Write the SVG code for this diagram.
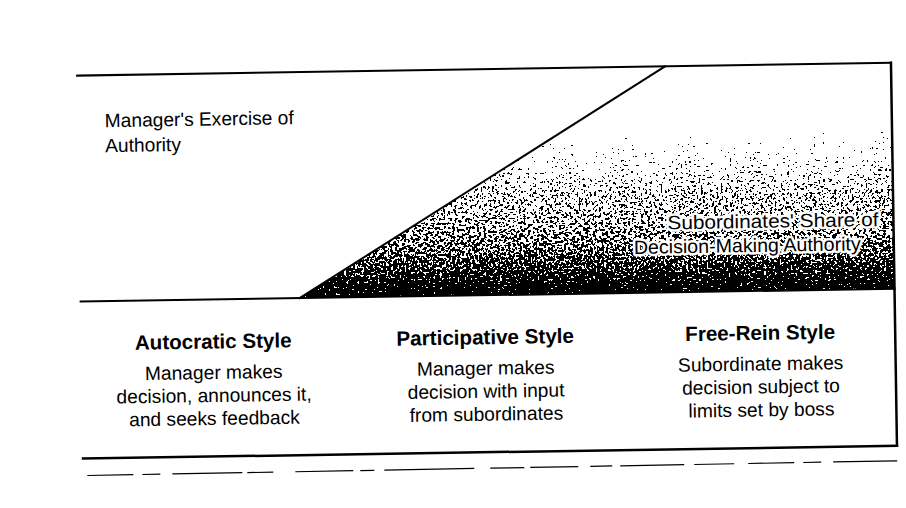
<svg xmlns="http://www.w3.org/2000/svg" width="906" height="508" viewBox="0 0 906 508">
  <defs>
    <style>
      .rule { stroke: #000; stroke-width: 2; fill: none; stroke-linecap: square; }
      .label { font-family: "Liberation Sans", Arial, sans-serif; font-size: 19.2px; fill: #000; }
      .title { font-family: "Liberation Sans", Arial, sans-serif; font-size: 20.6px; font-weight: bold; fill: #000; text-anchor: middle; }
      .body { font-family: "Liberation Sans", Arial, sans-serif; font-size: 19.2px; fill: #000; text-anchor: middle; }
      .halo { stroke: #fff; stroke-width: 5; stroke-linejoin: round; paint-order: stroke; }
    </style>
    <!-- vertical density ramp for the subordinates' share area -->
    <linearGradient id="ramp" gradientUnits="userSpaceOnUse" x1="0" y1="69" x2="0" y2="295">
      <stop offset="0" stop-color="#000" stop-opacity="0"/>
      <stop offset="0.3" stop-color="#000" stop-opacity="0.02"/>
      <stop offset="0.45" stop-color="#000" stop-opacity="0.2"/>
      <stop offset="0.62" stop-color="#000" stop-opacity="0.36"/>
      <stop offset="0.78" stop-color="#000" stop-opacity="0.52"/>
      <stop offset="0.89" stop-color="#000" stop-opacity="0.74"/>
      <stop offset="1" stop-color="#000" stop-opacity="0.92"/>
    </linearGradient>
    <!-- turns the smooth ramp into a stippled, halftone-like texture -->
    <filter id="stipple" filterUnits="objectBoundingBox" x="0" y="0" width="1" height="1" color-interpolation-filters="sRGB">
      <feTurbulence type="fractalNoise" baseFrequency="0.45" numOctaves="4" seed="11" result="noise"/>
      <feColorMatrix in="noise" type="matrix" values="0 0 0 0 0  0 0 0 0 0  0 0 0 0 0  2.5 0 0 0 -0.75" result="n"/>
      <feComposite in="SourceGraphic" in2="n" operator="arithmetic" k1="0" k2="1" k3="1" k4="-0.52" result="sum"/>
      <feComponentTransfer in="sum">
        <feFuncA type="discrete" tableValues="0 1"/>
      </feComponentTransfer>
    </filter>
    <clipPath id="shareClip">
      <polygon points="299,295 668,69 894,69 894,295"/>
    </clipPath>
  </defs>

  <rect width="906" height="508" fill="#fff"/>

  <g transform="rotate(-0.9 500 260)">
    <!-- shaded area: subordinates' share of authority -->
    <g id="share-area" clip-path="url(#shareClip)">
      <g filter="url(#stipple)">
        <polygon points="299,295 668,69 894,69 894,295" fill="url(#ramp)"/>
      </g>
    </g>

    <!-- frame, dividing diagonal and lower panel rules -->
    <g id="connectors">
      <line class="rule" x1="80" y1="69" x2="894" y2="69"/>
      <line class="rule" x1="894" y1="69" x2="894" y2="452" style="stroke-width:2.5"/>
      <line class="rule" x1="80" y1="295" x2="894" y2="295"/>
      <line class="rule" x1="80" y1="452" x2="894" y2="452" style="stroke-width:2.5"/>
      <line class="rule" x1="299" y1="295" x2="668" y2="69"/>
      <line x1="84" y1="469" x2="894" y2="467" stroke="#000" stroke-width="1.2" stroke-dasharray="46 9 18 12 70 5 26 22 58 7 14 10 90 16 34 6 48 12 22 8 64 10 40 14"/>
    </g>

    <g id="label-manager">
      <text class="label" x="107" y="121" textLength="189" lengthAdjust="spacingAndGlyphs">Manager's Exercise of</text>
      <text class="label" x="107" y="146">Authority</text>
    </g>

    <g id="label-subordinates">
      <text class="label halo" x="668" y="232" textLength="211" lengthAdjust="spacingAndGlyphs">Subordinates' Share of</text>
      <text class="label halo" x="634" y="256" textLength="227" lengthAdjust="spacingAndGlyphs">Decision-Making Authority</text>
    </g>

    <g id="style-autocratic">
      <text class="title" x="212" y="344">Autocratic Style</text>
      <text class="body" x="212" y="374.5">Manager makes</text>
      <text class="body" x="212" y="397.5">decision, announces it,</text>
      <text class="body" x="212" y="420.5">and seeks feedback</text>
    </g>

    <g id="style-participative">
      <text class="title" x="484" y="344">Participative Style</text>
      <text class="body" x="484" y="374.5">Manager makes</text>
      <text class="body" x="484" y="397.5">decision with input</text>
      <text class="body" x="484" y="420.5">from subordinates</text>
    </g>

    <g id="style-free-rein">
      <text class="title" x="759" y="344">Free-Rein Style</text>
      <text class="body" x="759" y="374.5">Subordinate makes</text>
      <text class="body" x="759" y="397.5">decision subject to</text>
      <text class="body" x="759" y="420.5">limits set by boss</text>
    </g>
  </g>
</svg>
